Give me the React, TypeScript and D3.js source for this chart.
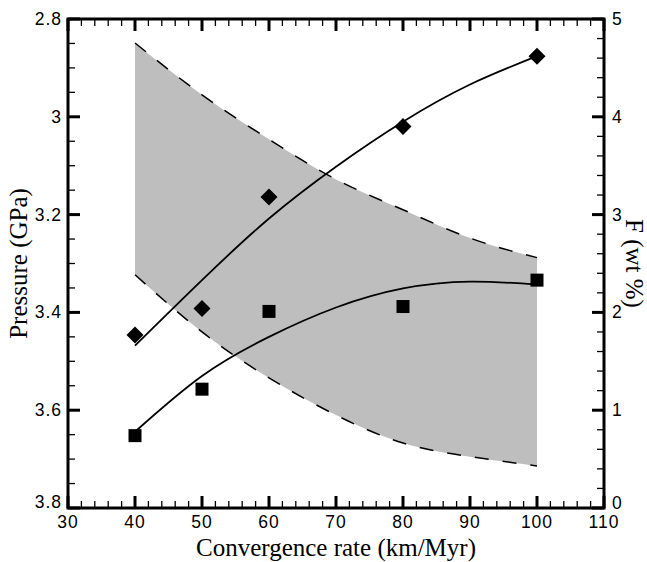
import React from "react";
import * as d3 from "d3";

const rates = [40, 50, 60, 80, 100];
const fValues = [1.77, 2.04, 3.18, 3.9, 4.62];
const pValues = [3.652, 3.557, 3.398, 3.388, 3.334];

const fitX = [40, 50, 60, 70, 80, 90, 100];
const fFit = [1.66, 2.33, 2.96, 3.49, 3.95, 4.33, 4.62];
const pFit = [3.644, 3.53, 3.45, 3.39, 3.351, 3.337, 3.343];

const bandX = [40, 50, 60, 70, 80, 90, 100];
const bandTop = [2.849, 2.955, 3.046, 3.128, 3.19, 3.248, 3.288];
const bandBottom = [3.323, 3.44, 3.534, 3.61, 3.667, 3.695, 3.714];

const xTicks = [30, 40, 50, 60, 70, 80, 90, 100, 110];
const pTicks = [2.8, 3, 3.2, 3.4, 3.6, 3.8];
const fTicks = [0, 1, 2, 3, 4, 5];

const W = 647, H = 562;
const X0 = 68, X1 = 604, Y0 = 19, Y1 = 508;

export default function App() {
  const x = d3.scaleLinear().domain([30, 110]).range([X0, X1]);
  const yP = d3.scaleLinear().domain([2.8, 3.8]).range([Y0, Y1]);
  const yF = d3.scaleLinear().domain([0, 5]).range([Y1, Y0]);

  const area = d3
    .area<number>()
    .x((d, i) => x(bandX[i]))
    .y0((d, i) => yP(bandBottom[i]))
    .y1((d, i) => yP(bandTop[i]))
    .curve(d3.curveNatural);
  const bandLine = d3.line<number>().x((d, i) => x(bandX[i])).y((d) => yP(d)).curve(d3.curveNatural);
  const fLine = d3.line<number>().x((d, i) => x(fitX[i])).y((d) => yF(d)).curve(d3.curveNatural);
  const pLine = d3.line<number>().x((d, i) => x(fitX[i])).y((d) => yP(d)).curve(d3.curveNatural);

  const xMinor = d3.range(30, 110.001, 2);
  const pMinor = d3.range(2.8, 3.8001, 0.05);
  const fMinor = d3.range(0, 5.001, 0.2);

  const tickFont = { fontFamily: "'Liberation Sans', Arial, sans-serif", fontSize: 17.5, letterSpacing: 1 };
  const titleFont = { fontFamily: "'Liberation Serif', 'Times New Roman', serif", fontSize: 25 };

  return (
    <svg width={W} height={H} style={{ position: "absolute", left: 0, top: 0, background: "#fff" }}>
      <rect width={W} height={H} fill="#fff" />
      <path d={area(bandX) || ""} fill="#bebebe" stroke="none" />
      <path d={bandLine(bandTop) || ""} fill="none" stroke="#000" strokeWidth={1.5} strokeDasharray="14,14" />
      <path d={bandLine(bandBottom) || ""} fill="none" stroke="#000" strokeWidth={1.5} strokeDasharray="14,14" />

      <path d={fLine(fFit) || ""} fill="none" stroke="#000" strokeWidth={1.8} />
      <path d={pLine(pFit) || ""} fill="none" stroke="#000" strokeWidth={1.8} />

      {rates.map((r, i) => (
        <rect key={"s" + r} x={x(r) - 6.5} y={yP(pValues[i]) - 6.5} width={13} height={13} fill="#000" />
      ))}
      {rates.map((r, i) => {
        const cx = x(r), cy = yF(fValues[i]), s = 8.5;
        return <path key={"d" + r} d={`M${cx},${cy - s}L${cx + s},${cy}L${cx},${cy + s}L${cx - s},${cy}Z`} fill="#000" />;
      })}

      {xMinor.map((v) => (
        <g key={"xm" + v}>
          <line x1={x(v)} x2={x(v)} y1={Y1} y2={Y1 - 7} stroke="#000" strokeWidth={1.3} />
          <line x1={x(v)} x2={x(v)} y1={Y0} y2={Y0 + 7} stroke="#000" strokeWidth={1.3} />
        </g>
      ))}
      {pMinor.map((v) => (
        <line key={"pm" + v} x1={X0} x2={X0 + 7} y1={yP(v)} y2={yP(v)} stroke="#000" strokeWidth={1.3} />
      ))}
      {fMinor.map((v) => (
        <line key={"fm" + v} x1={X1} x2={X1 - 7} y1={yF(v)} y2={yF(v)} stroke="#000" strokeWidth={1.3} />
      ))}
      {xTicks.map((v) => (
        <g key={"xM" + v}>
          <line x1={x(v)} x2={x(v)} y1={Y1} y2={Y1 - 12} stroke="#000" strokeWidth={3} />
          <line x1={x(v)} x2={x(v)} y1={Y0} y2={Y0 + 12} stroke="#000" strokeWidth={3} />
          <text x={x(v)} y={528} textAnchor="middle" {...tickFont}>{v}</text>
        </g>
      ))}
      {pTicks.map((v, i) => (
        <g key={"pM" + v}>
          <line x1={X0} x2={X0 + 12} y1={yP(v)} y2={yP(v)} stroke="#000" strokeWidth={3} />
          <text x={62} y={yP(v) + 6 - (i === pTicks.length - 1 ? 6 : 0)} textAnchor="end" {...tickFont}>{v}</text>
        </g>
      ))}
      {fTicks.map((v, i) => (
        <g key={"fM" + v}>
          <line x1={X1} x2={X1 - 12} y1={yF(v)} y2={yF(v)} stroke="#000" strokeWidth={3} />
          <text x={612} y={yF(v) + 6 - (i === 0 ? 5 : 0)} textAnchor="start" {...tickFont}>{v}</text>
        </g>
      ))}

      <rect x={X0} y={Y0} width={X1 - X0} height={Y1 - Y0} fill="none" stroke="#000" strokeWidth={3} />

      <text x={(X0 + X1) / 2} y={556} textAnchor="middle" {...titleFont}>Convergence rate (km/Myr)</text>
      <text transform={`translate(27,${(Y0 + Y1) / 2}) rotate(-90)`} textAnchor="middle" {...titleFont}>Pressure (GPa)</text>
      <text transform={`translate(626,${(Y0 + Y1) / 2}) rotate(90)`} textAnchor="middle" {...titleFont}>F (wt %)</text>
    </svg>
  );
}
